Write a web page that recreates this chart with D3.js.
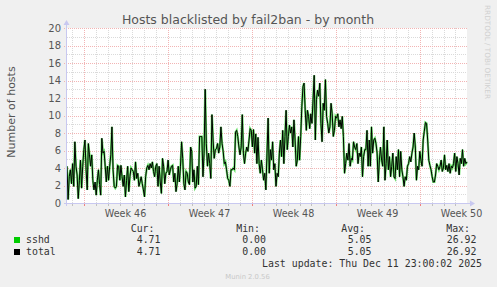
<!DOCTYPE html>
<html>

<head>
  <meta charset="utf-8">
  <style>
    body {
      margin: 0;
      background-color: #f0f0f0;
    }

    svg {
      display: block;
      background-color: #f0f0f0;
    }

    svg text {
      font-family: "DejaVu Sans", sans-serif;
    }

    svg .mono {
      font-family: "DejaVu Sans Mono", monospace;
      font-size: 9.9px;
      fill: #333;
    }
  </style>
</head>

<body>
  <div id="chart"></div>
  <script src="https://d3js.org/d3.v7.min.js"></script>
  <script>
    // one sample every ~2.2 hours
    var sshdValues = [
      4.2, 0.4, 3.0, 3.8, 2.2, 4.5, 1.9, 7.0, 4.2, 3.2,
      0.5, 2.6, 4.9, 1.7, 4.2, 6.1, 7.2, 3.8, 1.5, 6.8,
      5.5, 4.2, 5.5, 2.6, 1.5, 2.4, 0.9, 2.6, 3.8, 2.1,
      0.9, 7.4, 5.7, 5.9, 4.2, 2.4, 4.2, 2.6, 4.2, 5.5,
      8.7, 3.8, 1.9, 1.7, 1.9, 4.3, 4.2, 2.6, 4.3, 3.0,
      1.9, 3.2, 0.7, 2.6, 4.2, 1.3, 3.0, 4.0, 3.8, 3.6,
      2.6, 4.7, 2.8, 3.4, 1.9, 2.4, 3.0, 2.2, 1.5, 0.7,
      3.0, 4.0, 4.3, 3.8, 4.5, 4.0, 4.7, 3.6, 3.0, 4.2,
      4.5, 1.9, 4.2, 2.4, 1.1, 5.1, 4.2, 2.2, 3.4, 3.6,
      4.9, 3.2, 3.8, 4.2, 4.3, 2.4, 3.4, 1.3, 2.2, 4.2,
      2.4, 4.2, 7.0, 5.1, 2.2, 1.5, 3.6, 3.4, 2.4, 2.1,
      6.4, 5.9, 2.4, 3.8, 1.7, 1.9, 4.2, 2.1, 7.6, 7.6,
      7.6, 3.0, 5.7, 13.0, 6.8, 4.2, 5.7, 4.5, 2.8, 10.1,
      7.2, 5.1, 6.1, 6.2, 6.8, 5.7, 6.4, 8.7, 6.8, 5.9,
      4.5, 4.7, 3.8, 2.8, 2.6, 1.9, 3.8, 3.8, 4.0, 3.8,
      8.1, 8.3, 7.6, 6.4, 5.5, 6.4, 10.1, 5.7, 4.5, 5.7,
      6.4, 5.9, 7.2, 8.5,
      8.3, 6.4, 8.4, 5.7, 7.9, 4.5, 7.5, 4.5, 3.4, 4.9, 3.8, 2.6, 3.4,
      1.5, 5.7, 9.7, 3.4, 6.1, 4.9, 7.0, 3.8, 4.5,
      1.9, 3.4, 3.0, 5.7, 7.2, 5.3, 8.3, 4.5, 7.6,
      10.6, 6.1, 7.6, 8.9, 8.0, 8.7, 6.4, 9.5, 7.2,
      4.2, 4.9, 7.6, 4.9, 7.6, 11.0, 13.3, 13.7, 10.6,
      8.3, 10.6, 9.9, 8.5, 10.2, 9.1, 11.8, 14.6, 7.2,
      11.8, 12.9, 12.2, 13.7, 9.1, 7.0, 11.4, 10.6, 14.1,
      9.9, 9.1, 8.0, 8.7, 11.4, 10.2, 7.6, 8.3, 9.9,
      9.7, 10.2, 8.7, 9.5, 8.5, 9.9, 7.6, 3.4, 4.5,
      5.7, 4.9, 6.8, 4.2, 5.1, 4.9, 7.0, 6.4, 6.1,
      6.8, 4.5, 5.7, 5.3, 6.4, 3.0, 5.3, 6.1,
      6.1, 8.3, 4.2, 7.2, 4.2, 8.7, 5.7, 7.2, 7.4,
      6.8, 5.7, 2.4, 4.9, 6.4, 4.9, 4.2, 8.7, 2.6,
      4.5, 7.2, 3.8, 5.3, 3.0, 4.2, 5.7, 3.0, 2.8,
      5.3, 3.8, 6.1, 3.0, 5.9, 3.8, 3.0, 1.9, 3.0,
      2.6, 4.2, 4.5, 5.3, 4.7, 5.7, 6.4, 8.0, 6.4,
      2.6, 4.2, 3.8, 5.9, 4.9, 4.2, 7.2, 8.2, 9.2,
      9.1, 7.2, 4.9, 4.3, 3.8, 3.0, 2.4, 2.4, 3.2,
      4.5, 4.2, 3.8, 4.2, 4.9, 3.6, 4.0, 5.5, 3.8,
      4.3, 3.6, 4.5, 3.4, 4.2, 4.0, 4.5, 5.7, 3.6,
      5.3, 4.5, 3.2, 5.1, 4.5, 6.1, 4.2, 5.1, 4.5, 4.7
    ];
    // only one jail, so total follows sshd
    var totalValues = sshdValues.slice();

    var yTicks = [0, 2, 4, 6, 8, 10, 12, 14, 16, 18, 20];
    var legendHeaders = ["Cur:", "Min:", "Avg:", "Max:"];
    var legendNames = ["sshd", "total"];
    var legendColors = ["#00cc00", "#000000"];
    var legendStats = [
      ["4.71", "0.00", "5.05", "26.92"],
      ["4.71", "0.00", "5.05", "26.92"]
    ];
    var lastUpdate = "Last update: Thu Dec 11 23:00:02 2025";
    var endTime = new Date(Date.UTC(2025, 11, 11, 23, 0, 0));
    var startTime = new Date(endTime.getTime() - 800 * 3600 * 1000);

    var width = 497,
      height = 287;
    var plotLeft = 67,
      plotRight = 467,
      plotTop = 28,
      plotBottom = 203;

    var svg = d3.select("#chart").append("svg")
      .attr("width", width)
      .attr("height", height);

    var x = d3.scaleUtc()
      .domain([startTime, endTime])
      .range([plotLeft, plotRight]);
    var y = d3.scaleLinear()
      .domain([0, 20])
      .range([plotBottom, plotTop]);

    var step = (endTime - startTime) / (sshdValues.length - 1);
    function timeAt(i) {
      return new Date(startTime.getTime() + i * step);
    }

    // canvas
    svg.append("rect")
      .attr("x", plotLeft)
      .attr("y", plotTop)
      .attr("width", plotRight - plotLeft)
      .attr("height", plotBottom - plotTop)
      .attr("fill", "#fff");

    // minor grid
    var days = d3.utcDay.range(startTime, endTime);
    svg.append("g").selectAll("line")
      .data(days.filter(function(d) { return d.getUTCDay() != 1; }))
      .enter().append("line")
      .attr("x1", function(d) { return Math.round(x(d)) + 0.5; })
      .attr("x2", function(d) { return Math.round(x(d)) + 0.5; })
      .attr("y1", plotTop)
      .attr("y2", plotBottom)
      .attr("stroke", "#dadada")
      .attr("stroke-dasharray", "1,1");

    svg.append("g").selectAll("line")
      .data(d3.range(1, 20, 2))
      .enter().append("line")
      .attr("x1", plotLeft)
      .attr("x2", plotRight)
      .attr("y1", function(d) { return Math.round(y(d)) + 0.5; })
      .attr("y2", function(d) { return Math.round(y(d)) + 0.5; })
      .attr("stroke", "#dadada")
      .attr("stroke-dasharray", "1,1");

    // major grid
    var weeks = d3.utcMonday.range(startTime, endTime);
    svg.append("g").selectAll("line")
      .data(weeks)
      .enter().append("line")
      .attr("x1", function(d) { return Math.round(x(d)) + 0.5; })
      .attr("x2", function(d) { return Math.round(x(d)) + 0.5; })
      .attr("y1", plotTop)
      .attr("y2", plotBottom + 3)
      .attr("stroke", "#f2b4b4")
      .attr("stroke-dasharray", "1,1");

    svg.append("g").selectAll("line")
      .data(yTicks.slice(1))
      .enter().append("line")
      .attr("x1", plotLeft - 3)
      .attr("x2", plotRight)
      .attr("y1", function(d) { return Math.round(y(d)) + 0.5; })
      .attr("y2", function(d) { return Math.round(y(d)) + 0.5; })
      .attr("stroke", "#f2b4b4")
      .attr("stroke-dasharray", "1,1");

    // series
    var line = d3.line()
      .x(function(d, i) { return x(timeAt(i)); })
      .y(function(d) { return y(d); });

    svg.append("path")
      .datum(sshdValues)
      .attr("d", line)
      .attr("fill", "none")
      .attr("stroke", "#00cc00")
      .attr("stroke-width", 2.2)
      .attr("stroke-opacity", 0.6);

    svg.append("path")
      .datum(totalValues)
      .attr("d", line)
      .attr("fill", "none")
      .attr("stroke", "#000")
      .attr("stroke-width", 1);

    // axes
    svg.append("line")
      .attr("x1", plotLeft - 0.5).attr("x2", plotLeft - 0.5)
      .attr("y1", plotBottom + 3).attr("y2", plotTop - 4)
      .attr("stroke", "#c8c8f0");
    svg.append("path")
      .attr("d", "M" + (plotLeft - 3.5) + "," + (plotTop - 3) + "L" + (plotLeft - 0.5) + "," + (plotTop - 8) + "L" + (plotLeft + 2.5) + "," + (plotTop - 3) + "Z")
      .attr("fill", "#c8c8f0");
    svg.append("line")
      .attr("x1", plotLeft - 3).attr("x2", plotRight + 4)
      .attr("y1", plotBottom + 0.5).attr("y2", plotBottom + 0.5)
      .attr("stroke", "#c8c8f0");
    svg.append("path")
      .attr("d", "M" + (plotRight + 3) + "," + (plotBottom - 2.5) + "L" + (plotRight + 8) + "," + (plotBottom + 0.5) + "L" + (plotRight + 3) + "," + (plotBottom + 3.5) + "Z")
      .attr("fill", "#c8c8f0");

    svg.append("g").selectAll("line")
      .data(days)
      .enter().append("line")
      .attr("x1", function(d) { return Math.round(x(d)) + 0.5; })
      .attr("x2", function(d) { return Math.round(x(d)) + 0.5; })
      .attr("y1", plotBottom + 1)
      .attr("y2", plotBottom + 3)
      .attr("stroke", function(d) { return d.getUTCDay() == 1 ? "#f08080" : "#c0c0c0"; });

    // labels
    svg.append("g").selectAll("text")
      .data(yTicks)
      .enter().append("text")
      .attr("x", plotLeft - 6)
      .attr("y", function(d) { return y(d) + 3.6; })
      .attr("text-anchor", "end")
      .attr("font-size", "10px")
      .attr("fill", "#555")
      .text(function(d) { return d; });

    svg.append("g").selectAll("text")
      .data(weeks)
      .enter().append("text")
      .attr("x", function(d) { return x(d3.utcHour.offset(d, 84)); })
      .attr("y", 216.5)
      .attr("text-anchor", "middle")
      .attr("font-size", "9.6px")
      .attr("fill", "#555")
      .text(d3.utcFormat("Week %V"));

    svg.append("text")
      .attr("x", 248)
      .attr("y", 23.5)
      .attr("text-anchor", "middle")
      .attr("font-size", "12.5px")
      .attr("fill", "#555")
      .text("Hosts blacklisted by fail2ban - by month");

    svg.append("text")
      .attr("transform", "translate(15,112) rotate(-90)")
      .attr("text-anchor", "middle")
      .attr("font-size", "11px")
      .attr("fill", "#555")
      .text("Number of hosts");

    svg.append("text")
      .attr("transform", "translate(485,5) rotate(90)")
      .attr("font-size", "7.3px")
      .attr("fill", "#d0d0d0")
      .text("RRDTOOL / TOBI OETIKER");

    // legend
    var headerX = [154.5, 260, 365, 470];
    var valueX = [160.5, 266, 371.5, 476.5];

    svg.append("g").selectAll("text")
      .data(legendHeaders)
      .enter().append("text")
      .attr("class", "mono")
      .attr("x", function(d, i) { return headerX[i]; })
      .attr("y", 232)
      .attr("text-anchor", "end")
      .text(function(d) { return d; });

    legendNames.forEach(function(name, r) {
      var rowY = 243 + r * 12;
      svg.append("rect")
        .attr("x", 14)
        .attr("y", rowY - 6)
        .attr("width", 6)
        .attr("height", 6)
        .attr("fill", legendColors[r]);
      svg.append("text")
        .attr("class", "mono")
        .attr("x", 26)
        .attr("y", rowY)
        .text(name);
      svg.append("g").selectAll("text")
        .data(legendStats[r])
        .enter().append("text")
        .attr("class", "mono")
        .attr("x", function(d, i) { return valueX[i]; })
        .attr("y", rowY)
        .attr("text-anchor", "end")
        .text(function(d) { return d; });
    });

    svg.append("text")
      .attr("class", "mono")
      .attr("x", 482)
      .attr("y", 267)
      .attr("text-anchor", "end")
      .text(lastUpdate);

    svg.append("text")
      .attr("x", 247.5)
      .attr("y", 279)
      .attr("text-anchor", "middle")
      .attr("font-size", "6.8px")
      .attr("fill", "#c8c8c8")
      .text("Munin 2.0.56");
  </script>
</body>

</html>
